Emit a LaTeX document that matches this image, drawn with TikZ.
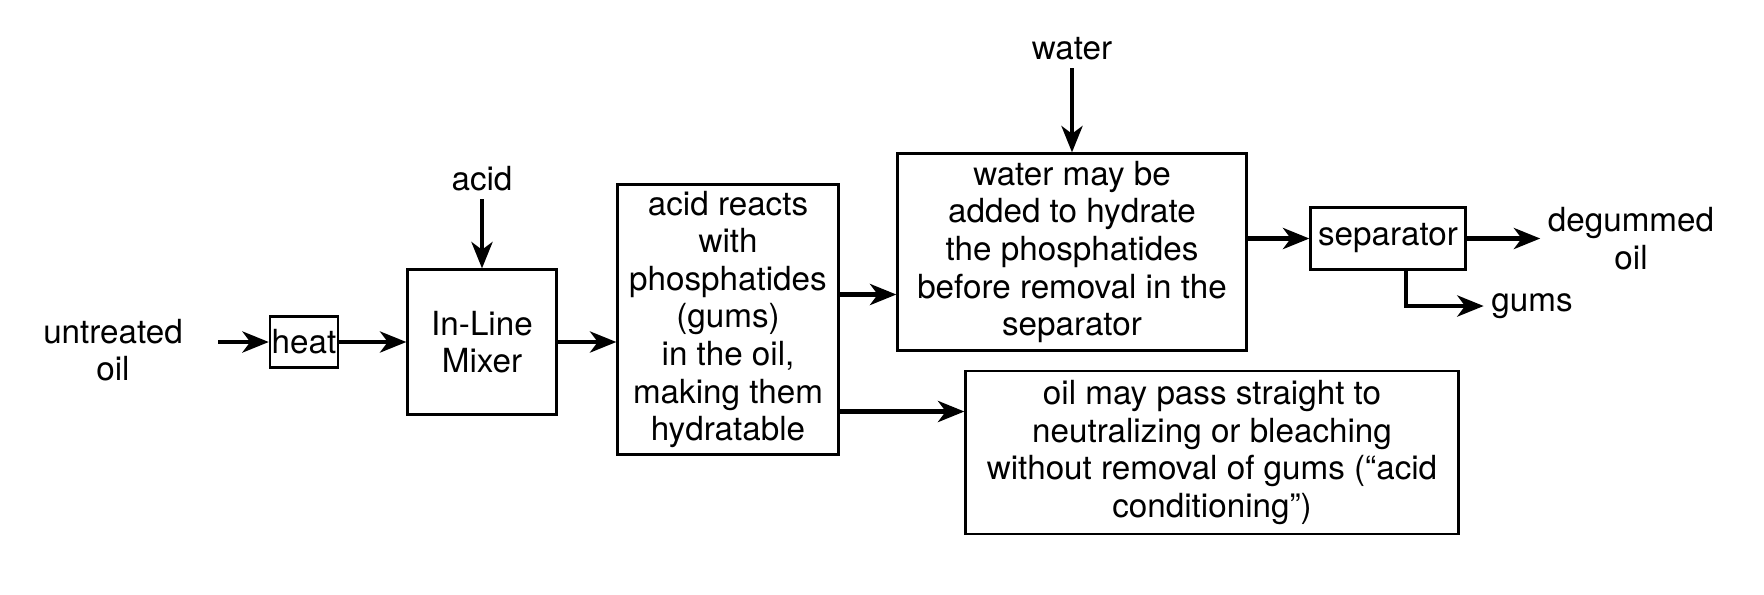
\documentclass[tikz,border=0pt]{standalone}
\usepackage{fontspec}
\setmainfont{TeX Gyre Heros}
\usetikzlibrary{arrows.meta,positioning}

\begin{document}
\begin{tikzpicture}
    [>={Stealth[length=7.5pt,width=6pt,inset=2.2pt]}, on grid,
     font=\fontsize{9.45}{10.7}\selectfont,
     box/.style={draw,line width=0.65pt,align=center,inner sep=1pt},
     label/.style={align=center,inner sep=2pt},
     flow/.style={->,line width=1.2pt}]
\useasboundingbox (0,0) rectangle (17.64,-5.94);
\node[box,inner xsep=0.5pt,minimum width=0.61cm,minimum height=0.51cm](heat) at (3.04,-3.42){heat};
\node[label](oilin)[below left = 0.08cm and 1.91cm of heat]{untreated\\oil};
\node[box,minimum width=1.49cm,minimum height=1.45cm](mixer)[right = 1.78cm of heat]{In-Line\\Mixer};
\node[label](acid)[above = 1.63cm of mixer]{acid};
\node[box,minimum width=2.21cm,minimum height=2.70cm](react)[above right = 0.225cm and 2.46cm of mixer]
    {acid reacts\\with\\phosphatides\\(gums)\\in the oil,\\making them\\hydratable};
\node[box,minimum width=3.49cm,minimum height=1.97cm](hydrate)[above right = 0.675cm and 3.44cm of react]
    {water may be\\added to hydrate\\the phosphatides\\before removal in the\\separator};
\node[label](water)[above = 2.03cm of hydrate]{water};
\node[box,minimum width=4.93cm,minimum height=1.63cm](cond)[below right = 1.33cm and 4.84cm of react]
    {oil may pass straight to\\neutralizing or bleaching\\without removal of gums (“acid\\conditioning”)};
\node[box,minimum width=1.55cm,minimum height=0.62cm](sep)[above right = 0.135cm and 3.16cm of hydrate]{separator};
\node[label](degummed)[right = 2.43cm of sep]{degummed\\oil};
\node[label](gums)[below right = 0.675cm and 1.44cm of sep]{gums};

\coordinate (r1) at ([yshift=0.25cm]react.east);
\coordinate (r2) at ([yshift=-0.92cm]react.east);
\coordinate (s1) at ([xshift=0.18cm]sep.south);

\draw[flow,shorten <=0.28cm] (oilin.east |- heat.west) -- (heat.west);
\draw[flow] (heat.east) -- (mixer.west);
\draw[flow] (acid.south) -- (mixer.north);
\draw[flow] (mixer.east) -- (mixer.east -| react.west);
\draw[flow] (r1) -- (r1 -| hydrate.west);
\draw[flow] (r2) -- (r2 -| cond.west);
\draw[flow] (water.south) -- (hydrate.north);
\draw[flow] (hydrate.east |- sep.west) -- (sep.west);
\draw[flow] (sep.east) -- (sep.east -| degummed.west);
\draw[flow] (s1) |- (gums.west);
\end{tikzpicture}
\end{document}
